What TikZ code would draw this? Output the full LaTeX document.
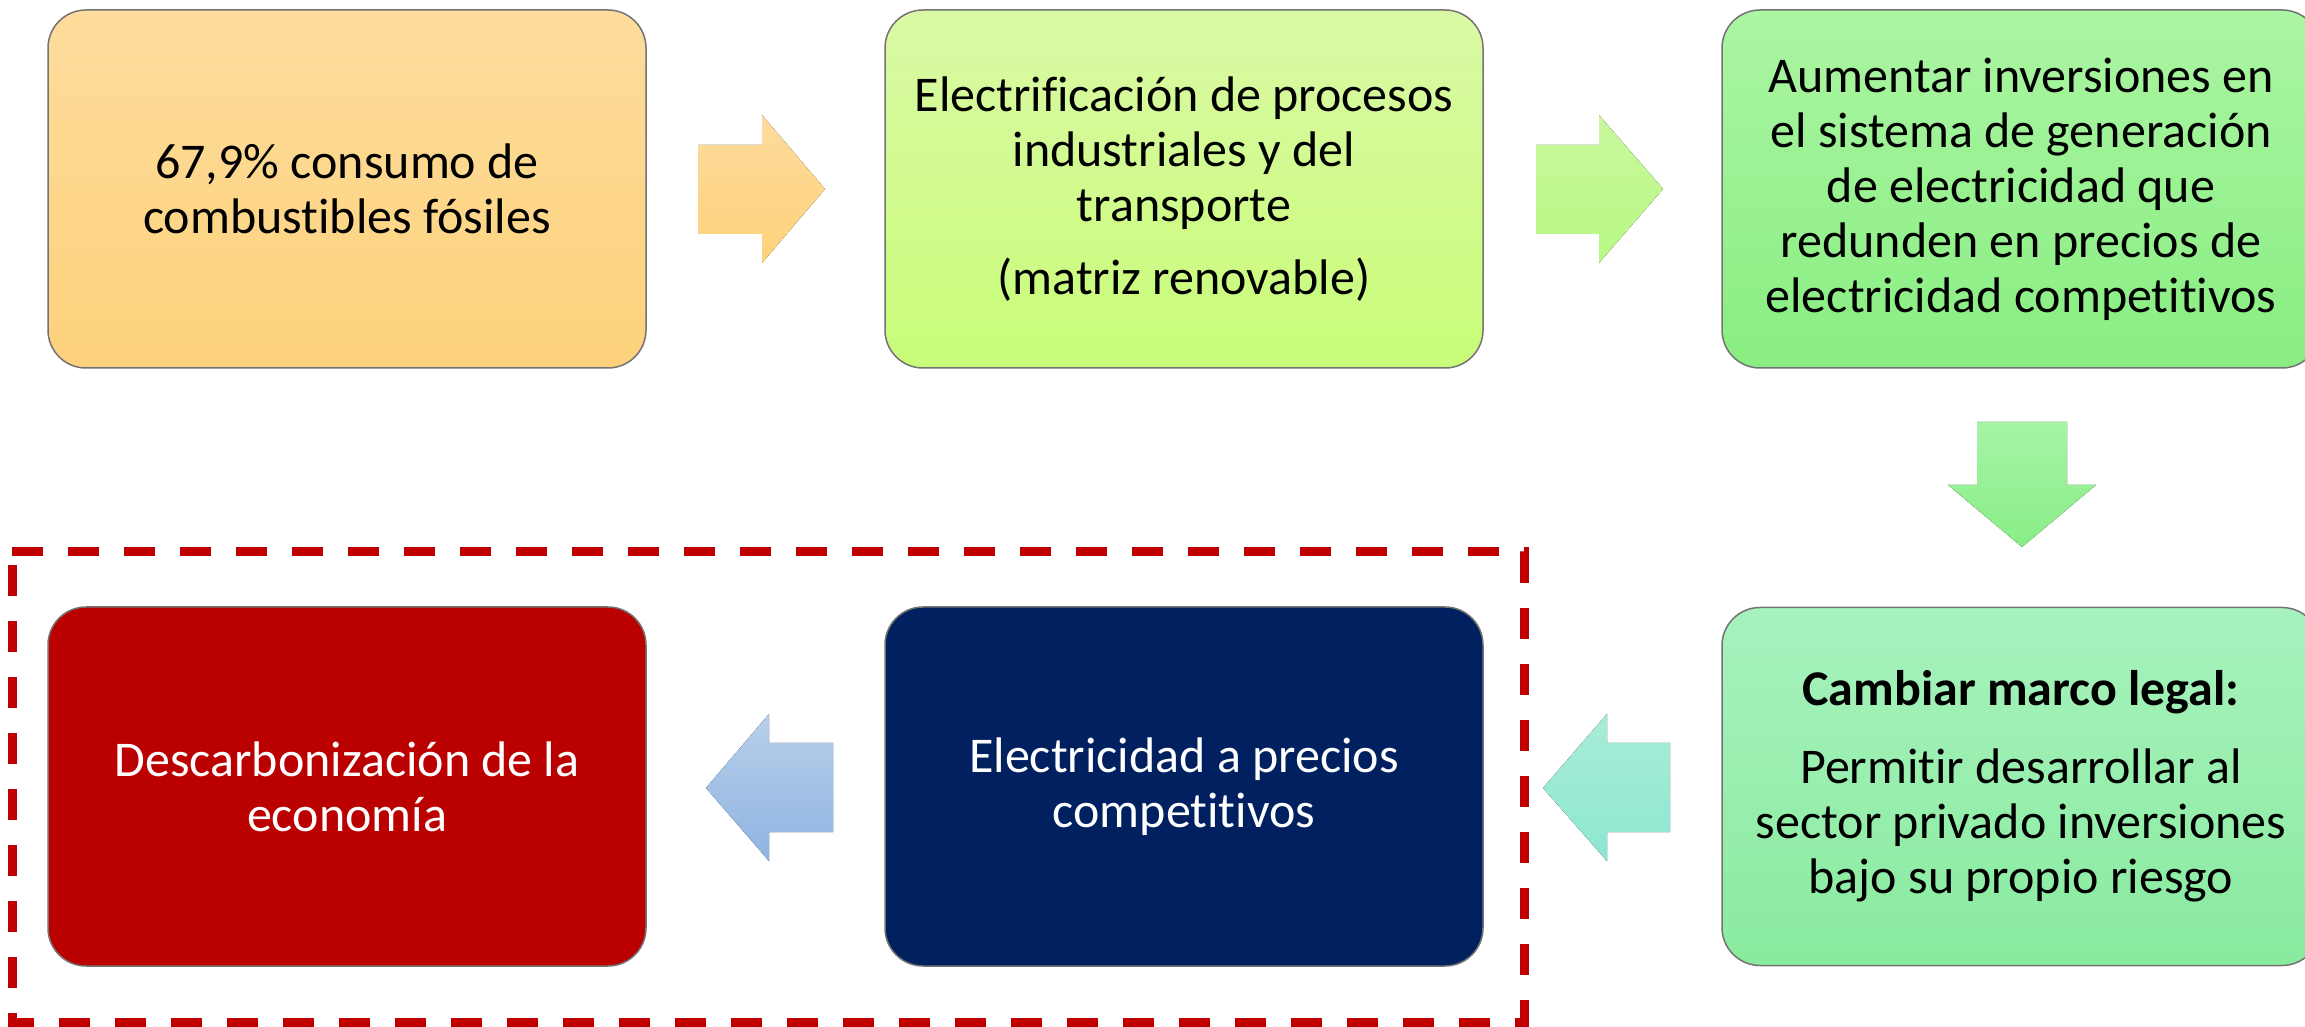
\documentclass[tikz,border=0pt]{standalone}
\usepackage{fontspec}
\setmainfont{Carlito}[Ligatures={NoCommon}]
\definecolor{boxline}{RGB}{115,115,115}
\definecolor{redbox}{RGB}{187,0,0}
\definecolor{navybox}{RGB}{0,32,96}
\definecolor{dashred}{RGB}{192,0,0}
\begin{document}
\begin{tikzpicture}[x=1pt,y=1pt,
  card/.style={draw=boxline, line width=1.5pt, rounded corners=38pt,
    minimum width=598pt, minimum height=358pt, inner sep=0pt, align=center,
    font=\fontsize{50}{55}\selectfont}
]
\useasboundingbox (0,0) rectangle (2305,1026);
\clip (0,0) rectangle (2305,1026);
\fill[white] (0,0) rectangle (2305,1026);

% top row
\node[card, top color={rgb,255:red,253;green,220;blue,156}, bottom color={rgb,255:red,254;green,210;blue,124}] (b1) at (347,837)
  {67,9\% consumo de\\combustibles fósiles};
\node[card, top color={rgb,255:red,218;green,249;blue,165}, bottom color={rgb,255:red,200;green,252;blue,120}] (b2) at (1184,837)
  {Electrificación de procesos\\industriales y del\\transporte\\[18pt](matriz renovable)};
\node[card, top color={rgb,255:red,171;green,245;blue,163}, bottom color={rgb,255:red,137;green,238;blue,129}] (b3) at (2021,837)
  {Aumentar inversiones en\\el sistema de generación\\de electricidad que\\redunden en precios de\\electricidad competitivos};

% bottom row
\node[card, top color={rgb,255:red,167;green,242;blue,190}, bottom color={rgb,255:red,137;green,235;blue,158}] (b4) at (2021,239.5)
  {\textbf{Cambiar marco legal:}\\[23pt]Permitir desarrollar al\\sector privado inversiones\\bajo su propio riesgo};
\node[card, fill=navybox, text=white, minimum height=359pt] (b5) at (1184,239.5)
  {Electricidad a precios\\competitivos};
\node[card, fill=redbox, text=white, minimum height=359pt] (b6) at (347,239.5)
  {Descarbonización de la\\economía};

% block arrows
\fill[top color={rgb,255:red,253;green,219;blue,158}, bottom color={rgb,255:red,255;green,210;blue,122}]
  (698,881) -- (762,881) -- (762,911) -- (825,837) -- (762,763) -- (762,792) -- (698,792) -- cycle;
\fill[top color={rgb,255:red,201;green,247;blue,157}, bottom color={rgb,255:red,184;green,249;blue,132}]
  (1536,881) -- (1599,881) -- (1599,911) -- (1663,837) -- (1599,763) -- (1599,792) -- (1536,792) -- cycle;
\fill[top color={rgb,255:red,166;green,243;blue,166}, bottom color={rgb,255:red,136;green,238;blue,134}]
  (1977,604) -- (2067,604) -- (2067,541) -- (2096,541) -- (2022,479) -- (1948,541) -- (1977,541) -- cycle;
\fill[top color={rgb,255:red,168;green,236;blue,217}, bottom color={rgb,255:red,141;green,231;blue,207}]
  (1670,283) -- (1607,283) -- (1607,312) -- (1543,238) -- (1607,165) -- (1607,194) -- (1670,194) -- cycle;
\fill[top color={rgb,255:red,184;green,207;blue,234}, bottom color={rgb,255:red,143;green,180;blue,226}]
  (833,283) -- (769,283) -- (769,312) -- (706,238) -- (769,165) -- (769,194) -- (833,194) -- cycle;

% dashed frame
\draw[dashred, line width=9pt, dash pattern=on 31pt off 25pt]
  (12,474) -- (1524,474) -- (1524,4) -- (12,4) -- cycle;
\end{tikzpicture}
\end{document}
